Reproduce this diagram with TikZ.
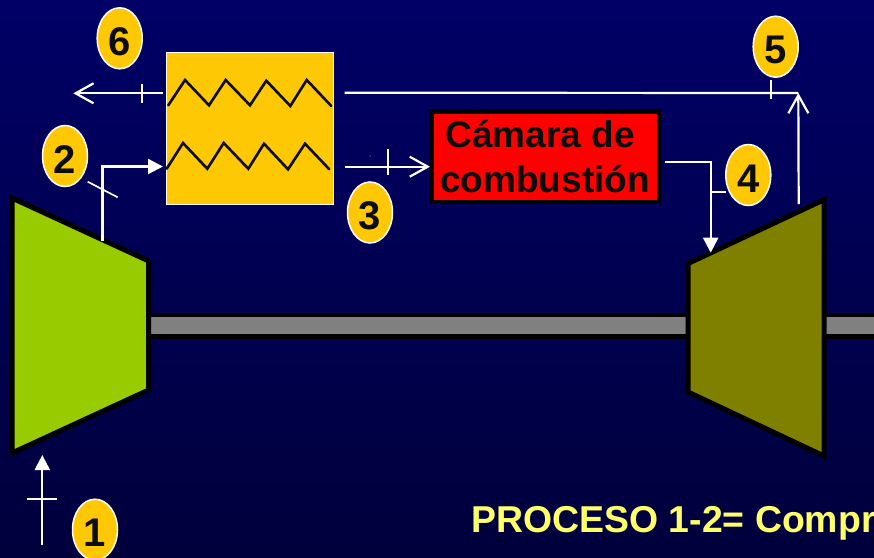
\documentclass[tikz,border=0pt]{standalone}
\usepackage{fontspec}
\setmainfont{Liberation Sans}
\usetikzlibrary{arrows.meta,shapes.geometric}
\definecolor{navytop}{HTML}{000066}
\definecolor{navymid}{HTML}{00005C}
\definecolor{navybot}{HTML}{00003C}
\definecolor{badgefill}{HTML}{FFC805}
\definecolor{inktext}{HTML}{0D0D0D}
\definecolor{compgreen}{HTML}{99CC00}
\definecolor{turbolive}{HTML}{808000}
\definecolor{shaftgray}{HTML}{808080}
\definecolor{procyellow}{HTML}{FFFF66}
\tikzset{
  badge/.style={shape=ellipse, draw=white, line width=1.5pt, fill=badgefill, text=inktext, minimum width=45pt, minimum height=61pt, inner sep=0pt, text height=34pt, text depth=0pt, font=\fontsize{40}{40}\selectfont\bfseries},
  pipe/.style={draw=white, line width=2.2pt},
  tick/.style={draw=white, line width=1.7pt},
  openhead/.style={pipe, -{Straight Barb[length=18pt, width=20pt, line width=2.2pt]}},
  solidhead/.style={pipe, -{Triangle[length=15pt, width=15pt, fill=white]}},
  machine/.style={draw=black, line width=5pt, miter limit=10},
  zigzag/.style={draw=inktext, line width=2.6pt, line join=miter, line cap=round},
}
\begin{document}
\begin{tikzpicture}[x=1pt, y=-1pt]
\clip (0,0) rectangle (874,557);
\shade[top color=navytop, middle color=navymid, bottom color=navybot] (0,0) rectangle (874,557);
\draw[draw=black, line width=4.4pt, fill=shaftgray] (140,315) rectangle (890,336.5);
\draw[machine, fill=compgreen] (12,198) -- (148.7,261) -- (148.7,390) -- (12,453) -- cycle;
\draw[machine, fill=turbolive] (688,263.5) -- (824,199.7) -- (824,456) -- (688,392) -- cycle;
\node[draw=white, line width=1.5pt, fill=badgefill, minimum width=167pt, minimum height=152pt, inner sep=0pt] (hx) at (249.8,128.7) {};
\draw[zigzag] (168.3,105.3) -- (185,80) -- (209,105.3) -- (225.7,80) -- (250,105.3) -- (266.3,80.7) -- (290.3,106) -- (306.7,80) -- (331.3,106);
\draw[zigzag] (166.7,168.7) -- (183,143) -- (207.3,168.7) -- (223.7,143) -- (248.3,168.7) -- (264,143.7) -- (288,169.3) -- (305,143.7) -- (329.3,169.3);
\node[draw=black, line width=4.4pt, fill=red, text=inktext, minimum width=227.4pt, minimum height=90.7pt, inner sep=0pt, align=center, font=\fontsize{37}{45}\selectfont\bfseries] (chamber) at (545,156.7) {C\'amara de\hspace*{9.4pt}\\combusti\'on};
\node[badge] (b6) at (119.7,38.3) {6};
\node[badge] (b2) at (65,156) {2};
\node[badge] (b3) at (370,212.5) {3};
\node[badge] (b5) at (775.7,46.7) {5};
\node[badge] (b4) at (748.3,175) {4};
\node[badge] (b1) at (95,529.7) {1};
\coordinate (in1) at (42.3,545);
\coordinate (top1) at (42.3,455);
\coordinate (out2) at (102.5,241);
\coordinate (in2) at (163,166.5);
\coordinate (out3) at (344.7,166.7);
\coordinate (in3) at (430,166.7);
\coordinate (out4) at (665,162);
\coordinate (in4) at (710.7,252.7);
\coordinate (out5) at (798.7,204);
\coordinate (in5) at (798.3,93);
\coordinate (ret5) at (344.7,92.7);
\coordinate (out6) at (163,93.3);
\coordinate (end6) at (73.3,93.3);
\draw[solidhead] (in1) -- (top1);
\draw[solidhead] (out2) |- (in2);
\draw[openhead] (out3) -- (in3);
\draw[solidhead] (out4) -| (in4);
\draw[openhead] (out5) -- (in5);
\draw[pipe] (ret5) -- (in5);
\draw[openhead] (out6) -- (end6);
\draw[tick] (27,499.3) -- (57.3,499.3);
\draw[tick] (87.7,181.7) -- (117.7,197.3);
\draw[tick] (388,149) -- (388,175);
\draw[tick] (711.7,192.3) -- (726,192.3);
\draw[tick] (770.7,80) -- (770.7,98.7);
\draw[tick] (142,84) -- (142,103);
\fill[white] (370,156) circle (0.5pt);
\node[anchor=base west, inner sep=0pt, text=procyellow, font=\fontsize{37.4}{45}\selectfont\bfseries] (proc) at (471.2,532.5) {PROCESO 1-2= Compr};
\end{tikzpicture}
\end{document}
